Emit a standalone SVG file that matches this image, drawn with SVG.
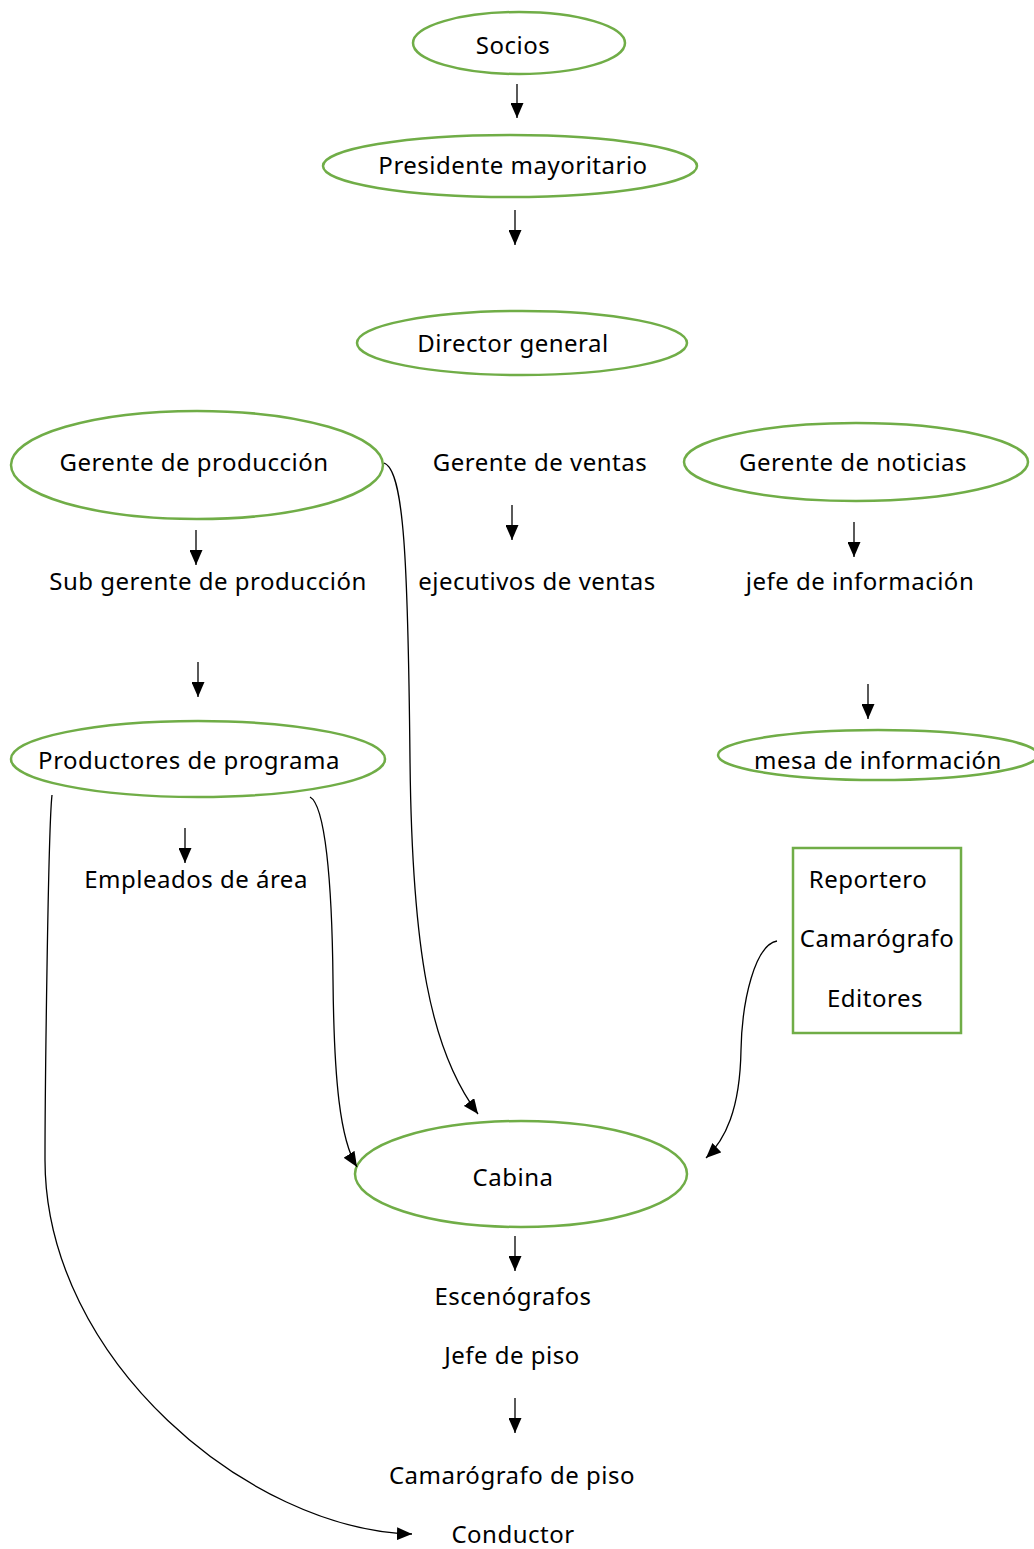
<svg xmlns="http://www.w3.org/2000/svg" width="1034" height="1549" viewBox="0 0 1034 1549">
<style>
.n{fill:none;stroke:#70AD47;stroke-width:2.5}
.t{font-family:"Noto Sans","Open Sans",sans-serif;font-size:24px;letter-spacing:0.5px;fill:#000;text-anchor:middle}
.c{fill:none;stroke:#000;stroke-width:1.3}
</style>
<defs>
<marker id="ah" markerWidth="15" markerHeight="13" refX="15" refY="6.5" orient="auto" markerUnits="userSpaceOnUse">
<path d="M0,0 L15,6.5 L0,13 Z" fill="#000"/>
</marker>
</defs>
<rect width="1034" height="1549" fill="#fff"/>
<g id="socios"><ellipse class="n" cx="519" cy="43" rx="106" ry="31"/><text class="t" x="513" y="54">Socios</text></g>
<g id="presidente"><ellipse class="n" cx="510" cy="166" rx="187" ry="31"/><text class="t" x="513" y="174">Presidente mayoritario</text></g>
<g id="director"><ellipse class="n" cx="522" cy="343" rx="165" ry="32"/><text class="t" x="513" y="352">Director general</text></g>
<g id="gerente-produccion"><ellipse class="n" cx="197" cy="465" rx="186" ry="54"/><text class="t" x="194" y="471">Gerente de producción</text></g>
<g id="gerente-ventas"><text class="t" x="540" y="471">Gerente de ventas</text></g>
<g id="gerente-noticias"><ellipse class="n" cx="856" cy="462" rx="172" ry="39"/><text class="t" x="853" y="471">Gerente de noticias</text></g>
<g id="sub-gerente"><text class="t" x="208" y="590">Sub gerente de producción</text></g>
<g id="ejecutivos"><text class="t" x="537" y="590">ejecutivos de ventas</text></g>
<g id="jefe-informacion"><text class="t" x="860" y="590">jefe de información</text></g>
<g id="productores"><ellipse class="n" cx="198" cy="759" rx="187" ry="38"/><text class="t" x="189" y="769">Productores de programa</text></g>
<g id="mesa"><ellipse class="n" cx="878" cy="755" rx="160" ry="25"/><text class="t" x="878" y="769">mesa de información</text></g>
<g id="empleados"><text class="t" x="196" y="888">Empleados de área</text></g>
<g id="equipo"><rect class="n" x="793" y="848" width="168" height="185"/><text class="t" x="868" y="888">Reportero</text><text class="t" x="877" y="947">Camarógrafo</text><text class="t" x="875" y="1007">Editores</text></g>
<g id="cabina"><ellipse class="n" cx="521" cy="1174" rx="166" ry="53"/><text class="t" x="513" y="1186">Cabina</text></g>
<g id="escenografos"><text class="t" x="513" y="1305">Escenógrafos</text></g>
<g id="jefe-piso"><text class="t" x="512" y="1364">Jefe de piso</text></g>
<g id="camarografo-piso"><text class="t" x="512" y="1484">Camarógrafo de piso</text></g>
<g id="conductor"><text class="t" x="513" y="1543">Conductor</text></g>
<g id="connectors">
<line class="c" x1="517" y1="84" x2="517" y2="118" marker-end="url(#ah)"/>
<line class="c" x1="515" y1="210" x2="515" y2="245" marker-end="url(#ah)"/>
<line class="c" x1="196" y1="530" x2="196" y2="565" marker-end="url(#ah)"/>
<line class="c" x1="512" y1="505" x2="512" y2="540" marker-end="url(#ah)"/>
<line class="c" x1="854" y1="522" x2="854" y2="557" marker-end="url(#ah)"/>
<line class="c" x1="198" y1="662" x2="198" y2="697" marker-end="url(#ah)"/>
<line class="c" x1="868" y1="684" x2="868" y2="719" marker-end="url(#ah)"/>
<line class="c" x1="185" y1="828" x2="185" y2="863" marker-end="url(#ah)"/>
<line class="c" x1="515" y1="1236" x2="515" y2="1271" marker-end="url(#ah)"/>
<line class="c" x1="515" y1="1398" x2="515" y2="1433" marker-end="url(#ah)"/>
<path class="c" d="M384,463 C404,470 408,560 410,760 C412,950 430,1050 478,1114" marker-end="url(#ah)"/>
<path class="c" d="M310,797 C325,805 332,880 333,980 C334,1080 340,1140 357,1167" marker-end="url(#ah)"/>
<path class="c" d="M777,941 C755,945 742,1000 741,1050 C740,1110 725,1140 706,1158" marker-end="url(#ah)"/>
<path class="c" d="M52,795 C48,830 45,1100 45,1160 C45,1360 250,1530 412,1534" marker-end="url(#ah)"/>
</g>
</svg>
